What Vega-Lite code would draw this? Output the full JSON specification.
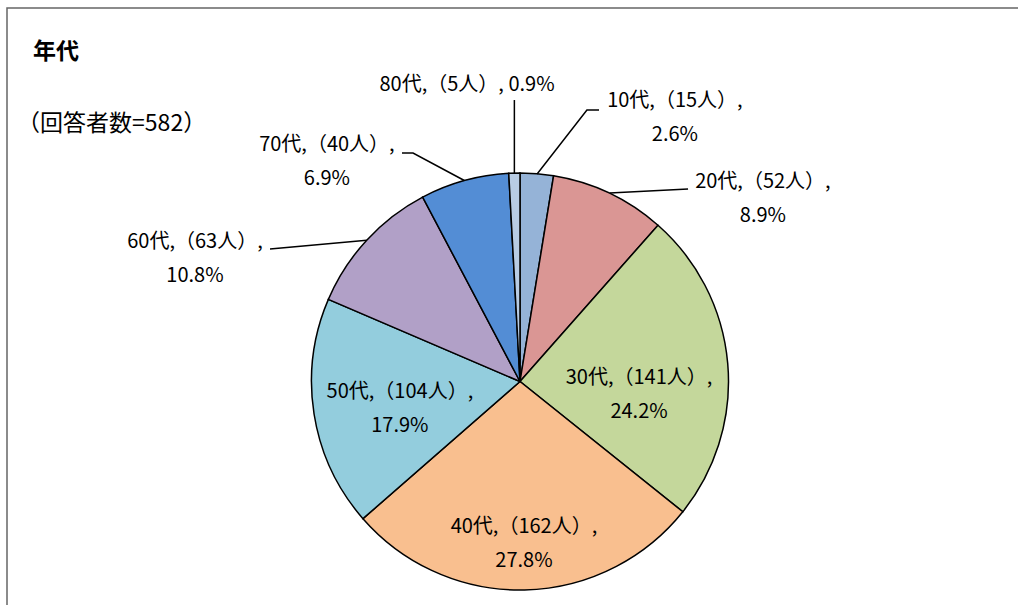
{
  "$schema": "https://vega.github.io/schema/vega-lite/v6.json",
  "width": 1026,
  "height": 747,
  "autosize": "none",
  "padding": {"left": 7, "top": 8, "right": 0, "bottom": 0},
  "background": "white",
  "config": {
    "view": {"stroke": "#666666", "strokeWidth": 1.5},
    "font": "Noto Sans CJK JP"
  },
  "datasets": {
    "slices": [
      {"年代": "10代", "人数": 15},
      {"年代": "20代", "人数": 52},
      {"年代": "30代", "人数": 141},
      {"年代": "40代", "人数": 162},
      {"年代": "50代", "人数": 104},
      {"年代": "60代", "人数": 63},
      {"年代": "70代", "人数": 40},
      {"年代": "80代", "人数": 5}
    ],
    "leaders": [
      {"年代": "10代", "pt": 0, "u": 0.082, "v": 0.995},
      {"年代": "10代", "pt": 1, "u": 0.321, "v": 1.302},
      {"年代": "10代", "pt": 2, "u": 0.379, "v": 1.302},
      {"年代": "20代", "pt": 0, "u": 0.430, "v": 0.904},
      {"年代": "20代", "pt": 1, "u": 0.806, "v": 0.923},
      {"年代": "60代", "pt": 0, "u": -0.735, "v": 0.678},
      {"年代": "60代", "pt": 1, "u": -1.199, "v": 0.635},
      {"年代": "70代", "pt": 0, "u": -0.267, "v": 0.964},
      {"年代": "70代", "pt": 1, "u": -0.513, "v": 1.096},
      {"年代": "70代", "pt": 2, "u": -0.566, "v": 1.096},
      {"年代": "80代", "pt": 0, "u": -0.027, "v": 1.0},
      {"年代": "80代", "pt": 1, "u": -0.027, "v": 1.350}
    ],
    "labels": [
      {"年代": "10代", "label": ["10代,（15人）,", "2.6%"], "u": 0.743, "v": 1.345},
      {"年代": "20代", "label": ["20代,（52人）,", "8.9%"], "u": 1.165, "v": 0.957},
      {"年代": "30代", "label": ["30代,（141人）,", "24.2%"], "u": 0.571, "v": 0.017},
      {"年代": "40代", "label": ["40代,（162人）,", "27.8%"], "u": 0.019, "v": -0.698},
      {"年代": "50代", "label": ["50代,（104人）,", "17.9%"], "u": -0.576, "v": -0.050},
      {"年代": "60代", "label": ["60代,（63人）,", "10.8%"], "u": -1.559, "v": 0.671},
      {"年代": "70代", "label": ["70代,（40人）,", "6.9%"], "u": -0.926, "v": 1.134},
      {"年代": "80代", "label": ["80代,（5人）, 0.9%"], "u": -0.254, "v": 1.422}
    ],
    "titles": [
      {"text": "年代", "u": -2.336, "v": 1.580}
    ],
    "subtitles": [
      {"text": "（回答者数=582）", "u": -2.412, "v": 1.235}
    ]
  },
  "layer": [
    {
      "data": {"name": "slices"},
      "mark": {"type": "arc", "outerRadius": 208.5, "stroke": "#000000", "strokeWidth": 1.5},
      "encoding": {
        "theta": {"field": "人数", "type": "quantitative", "stack": true},
        "color": {
          "field": "年代",
          "type": "nominal",
          "legend": null,
          "scale": {
            "domain": ["10代", "20代", "30代", "40代", "50代", "60代", "70代", "80代"],
            "range": ["#95B3D7", "#DA9694", "#C4D79B", "#F9BF8F", "#93CDDD", "#B1A0C7", "#538DD5", "#B8CCE4"]
          }
        }
      }
    },
    {
      "data": {"name": "leaders"},
      "mark": {"type": "line", "color": "#000000", "strokeWidth": 1.5},
      "encoding": {
        "x": {"field": "u", "type": "quantitative", "axis": null, "scale": {"domain": [-2.4604, 2.4604], "nice": false, "zero": false}},
        "y": {"field": "v", "type": "quantitative", "axis": null, "scale": {"domain": [-1.7914, 1.7914], "nice": false, "zero": false}},
        "detail": {"field": "年代", "type": "nominal"},
        "order": {"field": "pt", "type": "quantitative"}
      }
    },
    {
      "data": {"name": "labels"},
      "mark": {"type": "text", "fontSize": 20, "lineHeight": 34, "align": "center", "baseline": "middle", "color": "#000000"},
      "encoding": {
        "x": {"field": "u", "type": "quantitative"},
        "y": {"field": "v", "type": "quantitative"},
        "text": {"field": "label"}
      }
    },
    {
      "data": {"name": "titles"},
      "mark": {"type": "text", "fontSize": 23, "fontWeight": "bold", "align": "left", "baseline": "middle", "color": "#000000"},
      "encoding": {
        "x": {"field": "u", "type": "quantitative"},
        "y": {"field": "v", "type": "quantitative"},
        "text": {"field": "text"}
      }
    },
    {
      "data": {"name": "subtitles"},
      "mark": {"type": "text", "fontSize": 23, "align": "left", "baseline": "middle", "color": "#000000"},
      "encoding": {
        "x": {"field": "u", "type": "quantitative"},
        "y": {"field": "v", "type": "quantitative"},
        "text": {"field": "text"}
      }
    }
  ]
}
